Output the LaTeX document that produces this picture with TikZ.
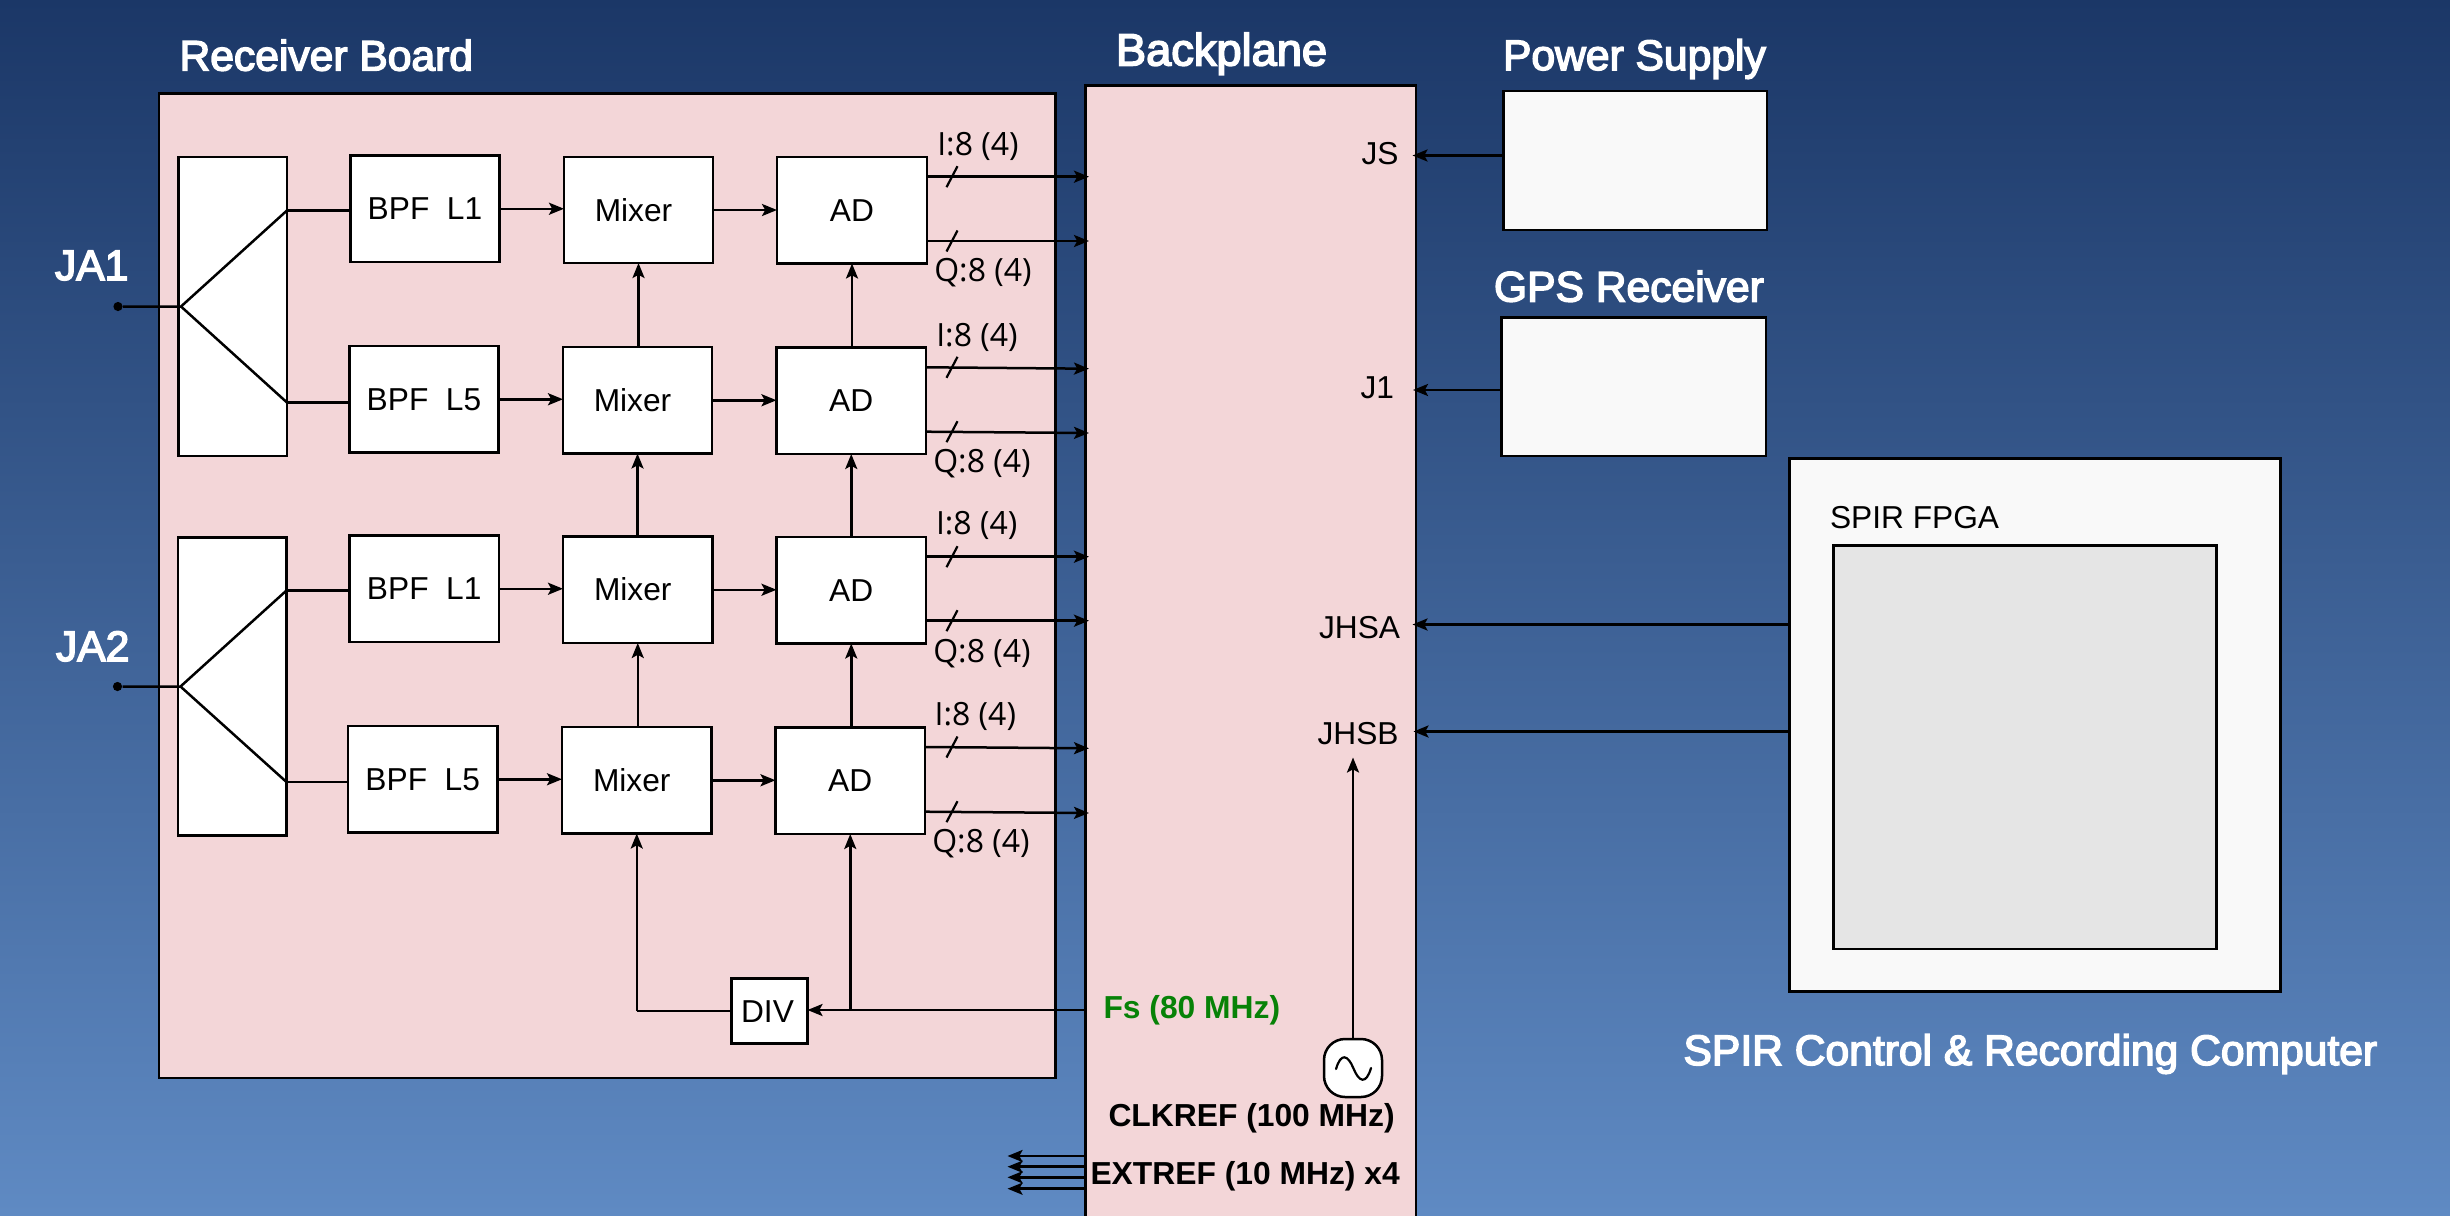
\documentclass[tikz,border=0pt]{standalone}
\usepackage{fontspec}
\setmainfont{Liberation Sans}
\newfontfamily\headfont[FakeBold=3.5]{Liberation Sans}
\newfontfamily\iofont{Open Sans}
\usetikzlibrary{arrows.meta,calc}
\definecolor{bgtop}{HTML}{1B3767}
\definecolor{bgbot}{HTML}{5F8AC3}
\definecolor{pinkfill}{HTML}{F3D6D8}
\definecolor{pale}{HTML}{F9F9F9}
\definecolor{fpga}{HTML}{E5E5E5}
\definecolor{fsgreen}{HTML}{078207}
\tikzset{
  ln/.style={draw=black,line width=1.25pt},
  sig/.style={ln,-{Stealth[length=7.5pt,width=6pt,inset=1.6pt]},shorten >=0pt},
  wire/.style={ln},
  frame/.style={ln,inner sep=0pt,outer sep=0pt,fill=pinkfill},
  blk/.style={ln,inner sep=0pt,outer sep=0pt,fill=white,text height=11.1pt,text depth=0pt,font=\fontsize{15.85pt}{18pt}\selectfont},
  palebox/.style={ln,inner sep=0pt,outer sep=0pt,fill=pale},
  fpgabox/.style={ln,inner sep=0pt,outer sep=0pt,fill=fpga},
  txt/.style={anchor=base west,inner sep=0pt,outer sep=0pt,font=\fontsize{15.85pt}{18pt}\selectfont},
  head/.style={anchor=base west,inner sep=0pt,outer sep=0pt,text=white,font=\headfont\fontsize{21.3pt}{24pt}\selectfont},
  io/.style={anchor=base west,inner sep=0pt,outer sep=0pt,font=\iofont\fontsize{16pt}{18pt}\selectfont},
  bld/.style={txt,font=\bfseries\fontsize{15.9pt}{18pt}\selectfont},
}
\newcommand{\rect}[7][]{\node[#2,#1,minimum width={(#5-#3)*0.5pt},minimum height={(#6-#4)*0.5pt}] (#7) at ({(#3+#5)/2},{(#4+#6)/2})}
\begin{document}
\begin{tikzpicture}[x=0.5pt,y=-0.5pt]
\useasboundingbox (0,0) rectangle (2450,1215);
\clip (0,0) rectangle (2450,1215);
\shade[top color=bgtop,bottom color=bgbot] (0,0) rectangle (2450,1215);

% frames
\rect{frame}{159}{93.5}{1055.5}{1078}{board} {};
\rect{frame}{1085.5}{85.5}{1416}{1225}{bp} {};
\rect{palebox}{1503.5}{91}{1767}{230}{power} {};
\rect{palebox}{1501.5}{317.5}{1766}{456}{gps} {};
\rect{palebox}{1789.5}{458.5}{2280.5}{991.5}{spir} {};
\rect{fpgabox}{1833.5}{545.5}{2216.5}{949}{fpgainner} {};

% splitters
\rect{blk}{178.5}{157}{287}{456}{splitA} {};
\rect{blk}{178}{537.5}{286.5}{835.5}{splitB} {};

% blocks
\rect{blk}{350.5}{155.5}{499.5}{262}{bpfA} {BPF\ \ L1};
\rect{blk}{349.5}{346}{498.5}{452.5}{bpfB} {BPF\ \ L5};
\rect{blk}{349.5}{535.5}{499}{642}{bpfC} {BPF\ \ L1};
\rect{blk}{348}{726}{497.5}{832.5}{bpfD} {BPF\ \ L5};
\rect{blk}{564}{157}{713}{263}{mixA} {Mixer\kern5pt};
\rect{blk}{563}{347}{712}{453.5}{mixB} {Mixer\kern5pt};
\rect{blk}{563}{536.5}{712.5}{643}{mixC} {Mixer\kern5pt};
\rect{blk}{562}{727}{711.5}{833.5}{mixD} {Mixer\kern5pt};
\rect{blk}{777}{157}{927}{263.5}{adA} {AD};
\rect{blk}{776.5}{347.5}{926}{454}{adB} {AD};
\rect{blk}{776.5}{537}{926}{643.5}{adC} {AD};
\rect{blk}{775.5}{727.5}{925}{834}{adD} {AD};
\rect{blk}{731.5}{978.5}{807.5}{1043.5}{div} {DIV\kern2pt};

% splitter internals
\node[circle,fill=black,inner sep=0pt,minimum size=4.6pt] (dotA) at (118,306.5) {};
\node[circle,fill=black,inner sep=0pt,minimum size=4.6pt] (dotB) at (117.5,686.5) {};
\coordinate (tipA) at ($(splitA.west)+(2.5,0)$);
\coordinate (tipB) at ($(splitB.west)+(2.5,0)$);
\coordinate (upA) at (287,210.5);
\coordinate (loA) at (287,402.5);
\coordinate (upB) at (286.5,590.5);
\coordinate (loB) at (286.5,782);
\draw[wire] (dotA) -- (tipA) (upA) -- (tipA) -- (loA);
\draw[wire] (dotB) -- (tipB) (upB) -- (tipB) -- (loB);
\draw[wire] (upA) -- (upA -| bpfA.west);
\draw[wire] (loA) -- (loA -| bpfB.west);
\draw[wire] (upB) -- (upB -| bpfC.west);
\draw[wire] (loB) -- (loB -| bpfD.west);

% horizontal signal flow
\foreach \a/\b in {bpfA/mixA,bpfB/mixB,bpfC/mixC,bpfD/mixD,mixA/adA,mixB/adB,mixC/adC,mixD/adD}
  \draw[sig] (\a.east) -- (\a.east -| \b.west);
% clock distribution
\foreach \a/\b in {mixB/mixA,mixC/mixB,mixD/mixC,adB/adA,adC/adB,adD/adC}
  \draw[sig] (\b.south |- \a.north) -- (\b.south);
\coordinate (fsin) at (1085.5,1010);
\draw[sig] (fsin) -- (fsin -| div.east);
\coordinate (fsAD) at (adD.south |- fsin);
\draw[sig] (fsAD) -- (adD.south);
\coordinate (divout) at (mixD.south |- div.west);
\draw[wire] (div.west) -- (divout);
\draw[sig] (divout) -- (mixD.south);

% ADC outputs
\foreach \n/\ys/\ye [count=\i] in {adA/176.7/176.7,adA/241/241,adB/367.3/368.7,adB/431.7/433,adC/556.7/556.7,adC/620.7/620.7,adD/747/748.3,adD/811.7/813}{
  \coordinate (out\i) at (1089,\ye);
  \coordinate (src\i) at (\n.east |- 0,\ys);
  \draw[sig] (src\i) -- (out\i);
  \draw[wire,line width=1.1pt] ($(src\i -| 952,0)+(-5.5,10.5)$) -- ($(src\i -| 952,0)+(5.5,-10.5)$);
}

% right side connections
\coordinate (js) at (1412.5,155.5);
\coordinate (jone) at (1413,390);
\coordinate (jhsa) at (1412.5,624.5);
\coordinate (jhsb) at (1413.5,731.5);
\draw[sig] (js -| power.west) -- (js);
\draw[sig] (jone -| gps.west) -- (jone);
\draw[sig] (jhsa -| spir.west) -- (jhsa);
\draw[sig] (jhsb -| spir.west) -- (jhsb);

% oscillator
\node[ln,fill=white,rounded corners=10.5pt,inner sep=0pt,outer sep=0pt,minimum size=29pt] (osc) at (1353,1068) {};
\coordinate (oscend) at (1353,757.5);
\draw[sig] (osc.north) -- (oscend);
\draw[wire,line width=1.1pt,line cap=round] (1336,1069) .. controls (1341,1052) and (1348,1055) .. (1353.5,1068.5) .. controls (1359,1082) and (1366,1085) .. (1371,1068);

% EXTREF outputs
\foreach \y [count=\i] in {1156,1166.7,1177.3,1188.7}{
  \coordinate (xr\i) at (1007.5,\y);
  \draw[sig] (bp.west |- xr\i) -- (xr\i);
}

% labels
\node[head] (tBoard) at (179.5,70.5) {Receiver Board};
\node[head,font=\headfont\fontsize{22.6pt}{24pt}\selectfont] (tBack) at (1116,65.5) {Backplane};
\node[head] (tPower) at (1503,70) {Power Supply};
\node[head] (tGps) at (1494,301.5) {GPS Receiver};
\node[head] (tJa) at (55,280) {JA1};
\node[head] (tJb) at (56,661) {JA2};
\node[head] (tSpir) at (1683.5,1065) {SPIR Control \& Recording Computer};
\node[txt] (tJs) at (1361.5,164.5) {JS};
\node[txt] (tJone) at (1360.5,398.5) {J1};
\node[txt] (tJhsa) at (1319,638) {JHSA};
\node[txt] (tJhsb) at (1317.5,744) {JHSB};
\node[txt] (tFpga) at (1830,528) {SPIR FPGA};
\node[bld,text=fsgreen] (tFs) at (1103.5,1018.5) {Fs (80 MHz)};
\node[bld] (tClk) at (1108.5,1126.5) {CLKREF (100 MHz)};
\node[bld] (tExt) at (1090.5,1184) {EXTREF (10 MHz) x4};
\node[io] (iA) at (937.3,155) {I:8 (4)};
\node[io] (qA) at (934.3,281.7) {Q:8 (4)};
\node[io] (iB) at (936.3,346) {I:8 (4)};
\node[io] (qB) at (933.3,472.3) {Q:8 (4)};
\node[io] (iC) at (936,534.3) {I:8 (4)};
\node[io] (qC) at (933.3,662.3) {Q:8 (4)};
\node[io] (iD) at (934.7,725) {I:8 (4)};
\node[io] (qD) at (932.3,852.7) {Q:8 (4)};
\end{tikzpicture}
\end{document}
